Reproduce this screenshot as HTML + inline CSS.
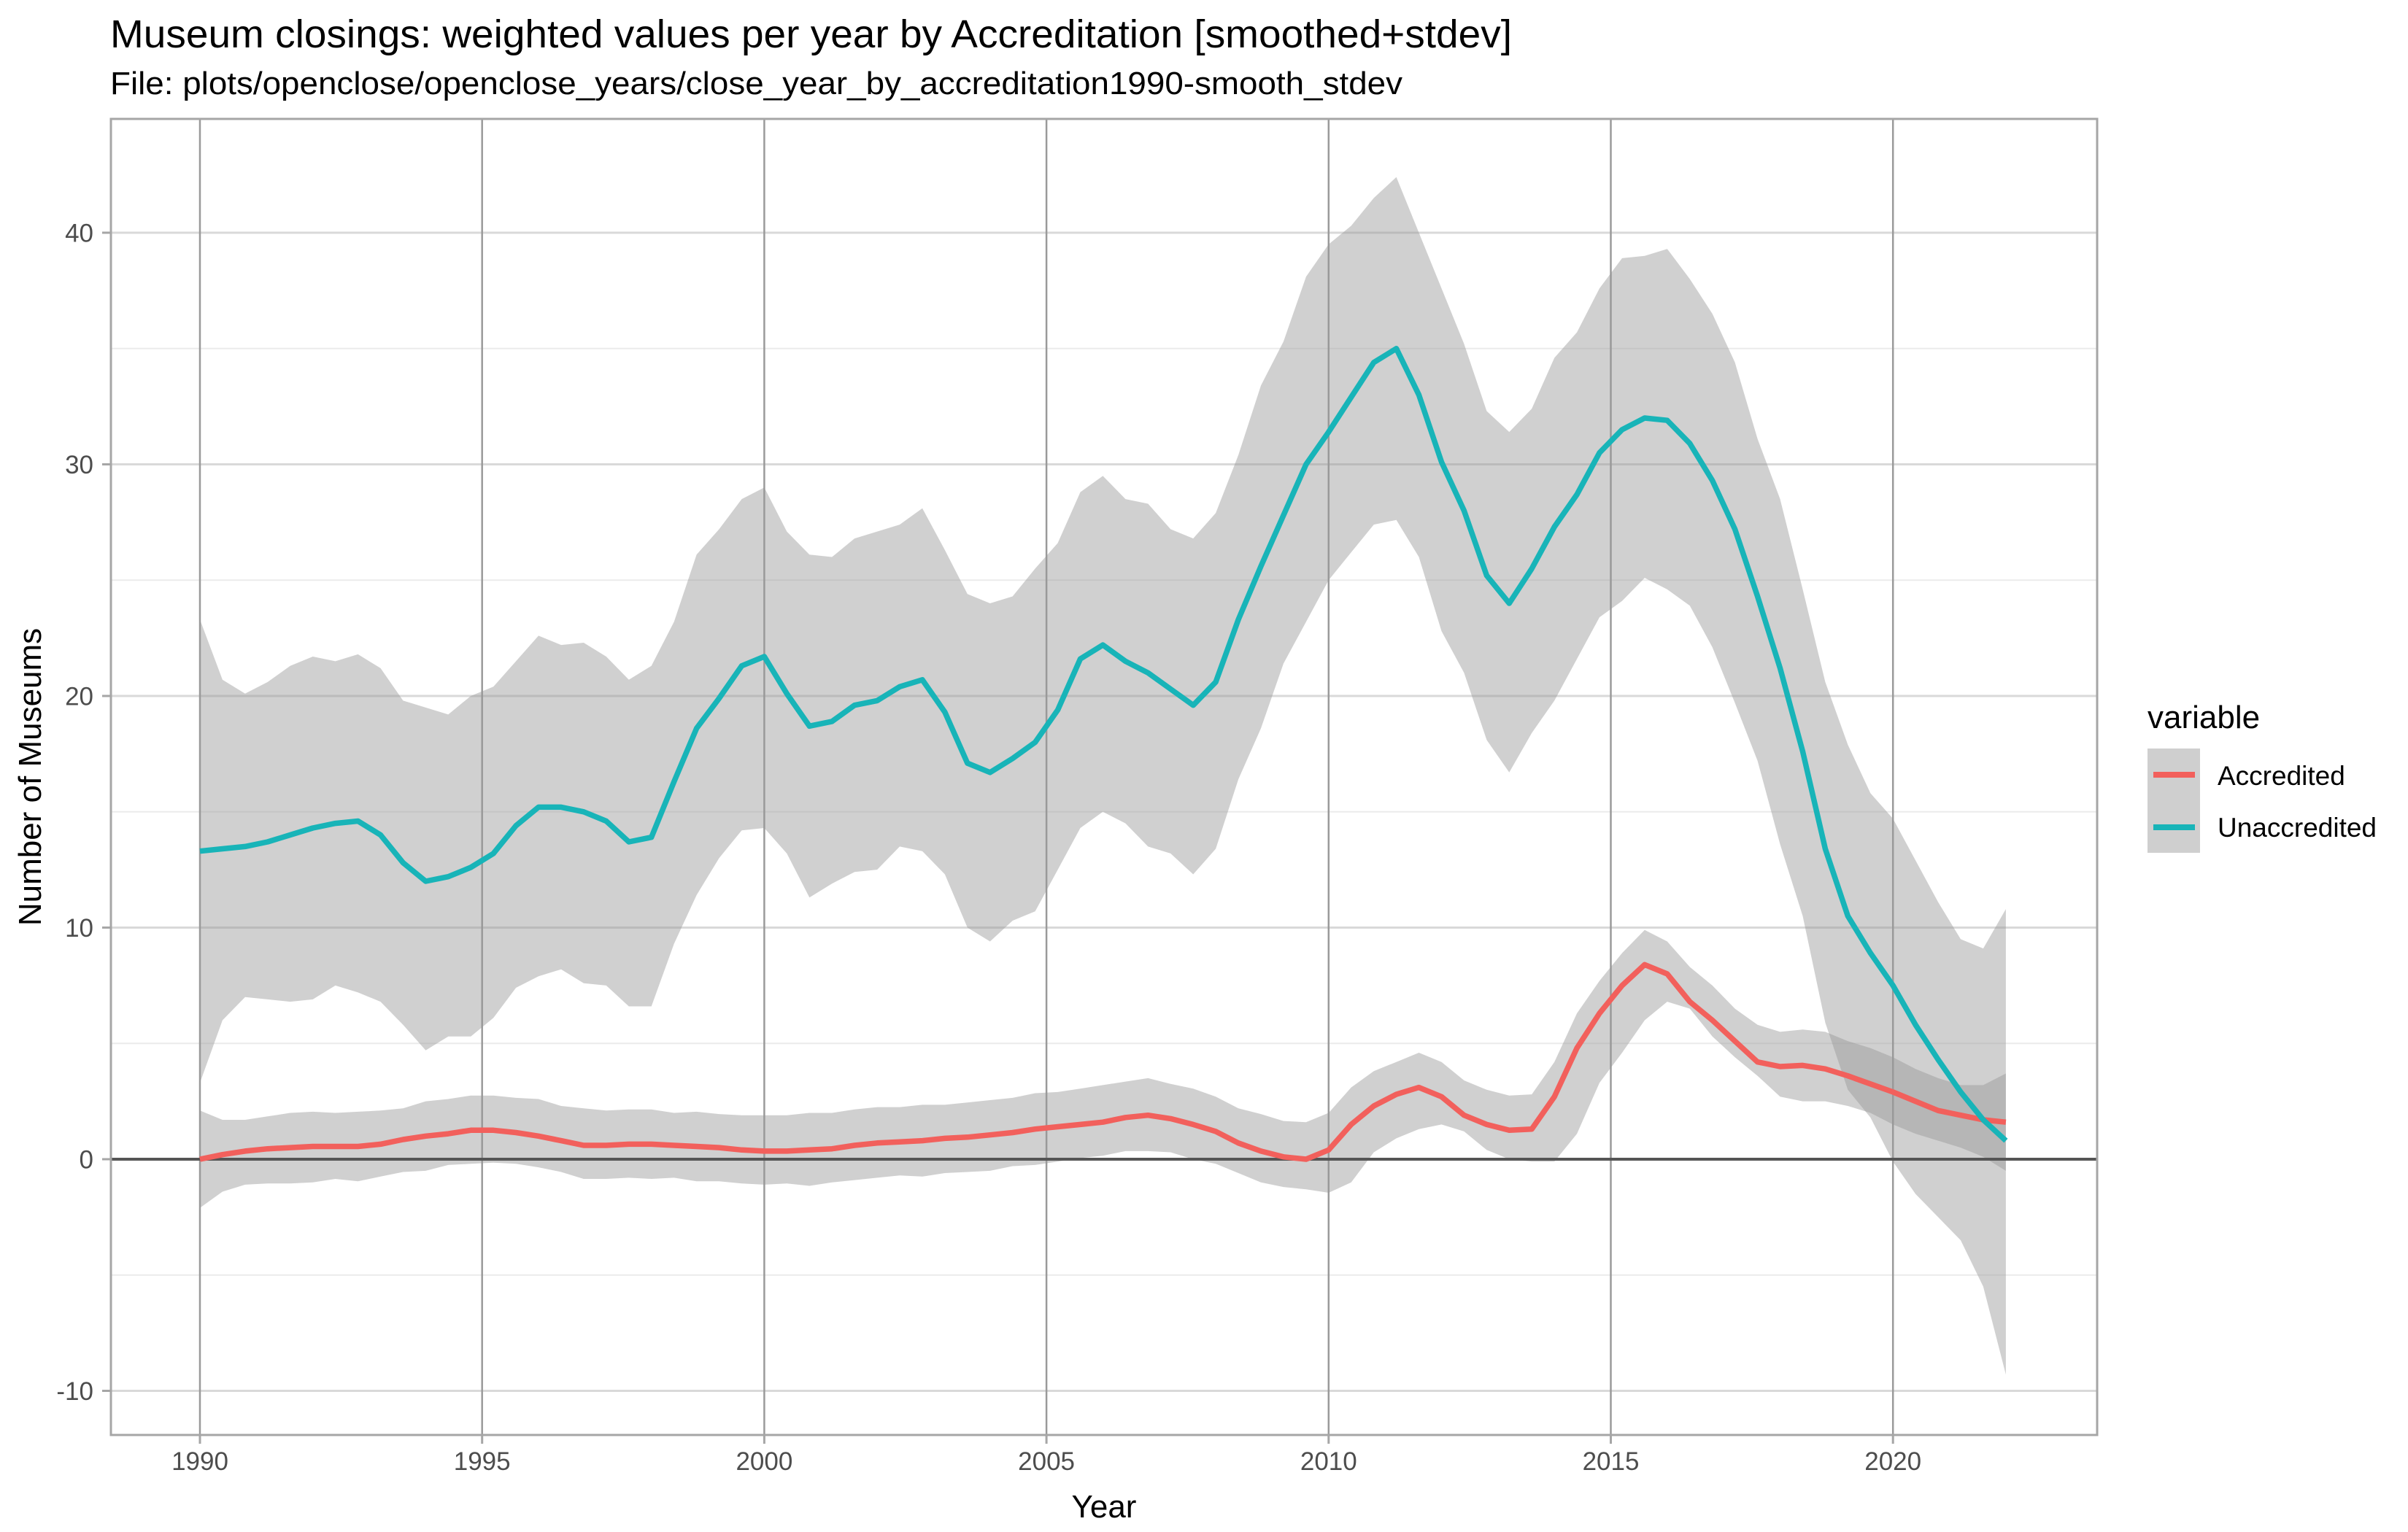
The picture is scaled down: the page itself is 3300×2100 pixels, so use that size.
<!DOCTYPE html>
<html><head><meta charset="utf-8"><style>
html,body{margin:0;padding:0;background:#fff;}
svg{display:block;font-family:"Liberation Sans",Arial,sans-serif;}
</style></head><body>
<svg id="chart" width="3300" height="2100" viewBox="0 0 3300 2100">
<rect x="0" y="0" width="3300" height="2100" fill="#fff"/>
<text x="151" y="65" font-size="54" fill="#000" textLength="1921" lengthAdjust="spacingAndGlyphs">Museum closings: weighted values per year by Accreditation [smoothed+stdev]</text>
<text x="151" y="129" font-size="44" fill="#000" textLength="1771" lengthAdjust="spacingAndGlyphs">File: plots/openclose/openclose_years/close_year_by_accreditation1990-smooth_stdev</text>
<g id="grid"></g>
<g id="bands"></g>
<line x1="152" x2="2874" y1="1589" y2="1589" stroke="#555" stroke-width="4" id="zeroline"/>
<g id="lines"></g>
<rect x="152" y="163" width="2722" height="1804" fill="none" stroke="#a6a6a6" stroke-width="3"/>
<g id="axes"></g>
<text x="1513" y="2080" font-size="44" text-anchor="middle" fill="#000">Year</text>
<text transform="translate(56,1065) rotate(-90)" font-size="44" text-anchor="middle" fill="#000">Number of Museums</text>
<g>
<text x="2943" y="998" font-size="44" fill="#000">variable</text>
<rect x="2943" y="1026" width="72" height="143" fill="#cfcfcf"/>
<line x1="2951" x2="3008" y1="1062" y2="1062" stroke="#F2605C" stroke-width="8"/>
<line x1="2951" x2="3008" y1="1134" y2="1134" stroke="#18B4B8" stroke-width="8"/>
<text x="3039" y="1076" font-size="37" fill="#000">Accredited</text>
<text x="3039" y="1147" font-size="37" fill="#000">Unaccredited</text>
</g>
</svg>
<script>
const xTicks = [1990, 1995, 2000, 2005, 2010, 2015, 2020];
const yTicks = [-10, 0, 10, 20, 30, 40];
const yMinor = [-5, 5, 15, 25, 35];
const unaccMean = [13.3,13.4,13.5,13.7,14.0,14.3,14.5,14.6,14.0,12.8,12.0,12.2,12.6,13.2,14.4,15.2,15.2,15.0,14.6,13.7,13.9,16.3,18.6,19.9,21.3,21.7,20.1,18.7,18.9,19.6,19.8,20.4,20.7,19.3,17.1,16.7,17.3,18.0,19.4,21.6,22.2,21.5,21.0,20.3,19.6,20.6,23.3,25.6,27.8,30.0,31.4,32.9,34.4,35.0,33.0,30.1,28.0,25.2,24.0,25.5,27.3,28.7,30.5,31.5,32.0,31.9,30.9,29.3,27.2,24.3,21.2,17.6,13.4,10.5,8.9,7.5,5.8,4.3,2.9,1.7,0.8];
const unaccHigh = [23.3,20.7,20.1,20.6,21.3,21.7,21.5,21.8,21.2,19.8,19.5,19.2,20.0,20.4,21.5,22.6,22.2,22.3,21.7,20.7,21.3,23.2,26.1,27.2,28.5,29.0,27.1,26.1,26.0,26.8,27.1,27.4,28.1,26.3,24.4,24.0,24.3,25.5,26.6,28.8,29.5,28.5,28.3,27.2,26.8,27.9,30.4,33.4,35.3,38.1,39.5,40.3,41.5,42.4,40.0,37.6,35.2,32.3,31.4,32.4,34.6,35.7,37.6,38.9,39.0,39.3,38.0,36.5,34.4,31.1,28.5,24.6,20.6,17.9,15.8,14.7,12.9,11.1,9.5,9.1,10.8];
const unaccLow = [3.3,6.0,7.0,6.9,6.8,6.9,7.5,7.2,6.8,5.8,4.7,5.3,5.3,6.1,7.4,7.9,8.2,7.6,7.5,6.6,6.6,9.3,11.4,13.0,14.2,14.3,13.2,11.3,11.9,12.4,12.5,13.5,13.3,12.3,10.0,9.4,10.3,10.7,12.5,14.3,15.0,14.5,13.5,13.2,12.3,13.4,16.4,18.6,21.4,23.2,25.0,26.2,27.4,27.6,26.0,22.8,21.0,18.1,16.7,18.4,19.8,21.6,23.4,24.1,25.1,24.6,23.9,22.1,19.7,17.2,13.6,10.5,5.9,3.0,1.8,-0.1,-1.5,-2.5,-3.5,-5.5,-9.3];
const accMean = [0.0,0.2,0.35,0.45,0.5,0.55,0.55,0.55,0.65,0.85,1.0,1.1,1.25,1.25,1.15,1.0,0.8,0.6,0.6,0.65,0.65,0.6,0.55,0.5,0.4,0.35,0.35,0.4,0.45,0.6,0.7,0.75,0.8,0.9,0.95,1.05,1.15,1.3,1.4,1.5,1.6,1.8,1.9,1.75,1.5,1.2,0.7,0.35,0.1,0.0,0.4,1.5,2.3,2.8,3.1,2.7,1.9,1.5,1.25,1.3,2.7,4.8,6.3,7.5,8.4,8.0,6.8,6.0,5.1,4.2,4.0,4.05,3.9,3.6,3.25,2.9,2.5,2.1,1.9,1.7,1.6];
const accHigh = [2.1,1.7,1.7,1.85,2.0,2.05,2.0,2.05,2.1,2.2,2.5,2.6,2.75,2.75,2.65,2.6,2.3,2.2,2.1,2.15,2.15,2.0,2.05,1.95,1.9,1.9,1.9,2.0,2.0,2.15,2.25,2.25,2.35,2.35,2.45,2.55,2.65,2.85,2.9,3.05,3.2,3.35,3.5,3.25,3.05,2.7,2.2,1.95,1.65,1.6,2.0,3.1,3.8,4.2,4.6,4.2,3.4,3.0,2.75,2.8,4.2,6.3,7.7,8.9,9.9,9.4,8.3,7.5,6.5,5.8,5.5,5.6,5.5,5.1,4.8,4.4,3.9,3.5,3.2,3.2,3.7];
const accLow = [-2.1,-1.4,-1.1,-1.05,-1.05,-1.0,-0.85,-0.95,-0.75,-0.55,-0.5,-0.25,-0.2,-0.15,-0.2,-0.35,-0.55,-0.85,-0.85,-0.8,-0.85,-0.8,-0.95,-0.95,-1.05,-1.1,-1.05,-1.15,-1.0,-0.9,-0.8,-0.7,-0.75,-0.6,-0.55,-0.5,-0.3,-0.25,-0.1,0.05,0.15,0.35,0.35,0.3,0.0,-0.2,-0.6,-1.0,-1.2,-1.3,-1.45,-1.0,0.3,0.9,1.3,1.5,1.2,0.4,0.0,-0.1,-0.1,1.1,3.3,4.6,6.0,6.8,6.5,5.3,4.4,3.6,2.7,2.5,2.5,2.3,2.0,1.5,1.1,0.8,0.5,0.1,-0.5];
const yearStart = 1990, yearEnd = 2022;

const NS = "http://www.w3.org/2000/svg";
function xs(yr){ return 274 + (yr - 1990) * 77.34; }
function ys(v){ return 1589 - v * 31.75; }
function yearAt(i, n){ return yearStart + (yearEnd - yearStart) * i / (n - 1); }
function mk(tag, attrs, parent){ const e = document.createElementNS(NS, tag); for (const k in attrs) e.setAttribute(k, attrs[k]); parent.appendChild(e); return e; }

const grid = document.getElementById('grid');
yMinor.forEach(v => {
  const l = mk('line', {x1:152, x2:2874, y1:ys(v), y2:ys(v), stroke:'#ebebeb', 'stroke-width':2}, grid);
  
  
});
yTicks.forEach(v => {
  const l = mk('line', {x1:152, x2:2874, y1:ys(v), y2:ys(v), stroke:'#d9d9d9', 'stroke-width':3}, grid);
  
  
});
xTicks.forEach(v => {
  const l = mk('line', {x1:xs(v), x2:xs(v), y1:163, y2:1967, stroke:'#9a9a9a', 'stroke-width':2.5}, grid);
  
  
});

function ribbon(hi, lo, name){
  const n = hi.length; let d = '';
  for (let i = 0; i < n; i++) d += (i ? 'L' : 'M') + xs(yearAt(i, n)).toFixed(1) + ',' + ys(hi[i]).toFixed(1);
  for (let i = n - 1; i >= 0; i--) d += 'L' + xs(yearAt(i, n)).toFixed(1) + ',' + ys(lo[i]).toFixed(1);
  const p = mk('path', {d: d + 'Z', fill:'#999999', 'fill-opacity':0.46}, document.getElementById('bands'));
  
  
}
ribbon(unaccHigh, unaccLow, 'ribbon-unaccredited');
ribbon(accHigh, accLow, 'ribbon-accredited');

function line(vals, color, name){
  const n = vals.length;
  const pts = vals.map((v, i) => xs(yearAt(i, n)).toFixed(1) + ',' + ys(v).toFixed(1)).join(' ');
  const p = mk('polyline', {points: pts, fill:'none', stroke: color, 'stroke-width':7.5, 'stroke-linejoin':'round'}, document.getElementById('lines'));
  
  
}
line(accMean, '#F2605C', 'line-accredited');
line(unaccMean, '#18B4B8', 'line-unaccredited');

const axes = document.getElementById('axes');
yTicks.forEach(v => {
  const t = mk('line', {x1:140, x2:152, y1:ys(v), y2:ys(v), stroke:'#a6a6a6', 'stroke-width':3}, axes);
  
  
  const tx = mk('text', {x:128, y:ys(v) + 12.5, 'font-size':35, 'text-anchor':'end', fill:'#4d4d4d'}, axes);
  tx.textContent = String(v);
  
  
});
xTicks.forEach(v => {
  const t = mk('line', {x1:xs(v), x2:xs(v), y1:1967, y2:1979, stroke:'#a6a6a6', 'stroke-width':3}, axes);
  
  
  const tx = mk('text', {x:xs(v), y:2015, 'font-size':35, 'text-anchor':'middle', fill:'#4d4d4d'}, axes);
  tx.textContent = String(v);
  
  
});
</script>
</body></html>
